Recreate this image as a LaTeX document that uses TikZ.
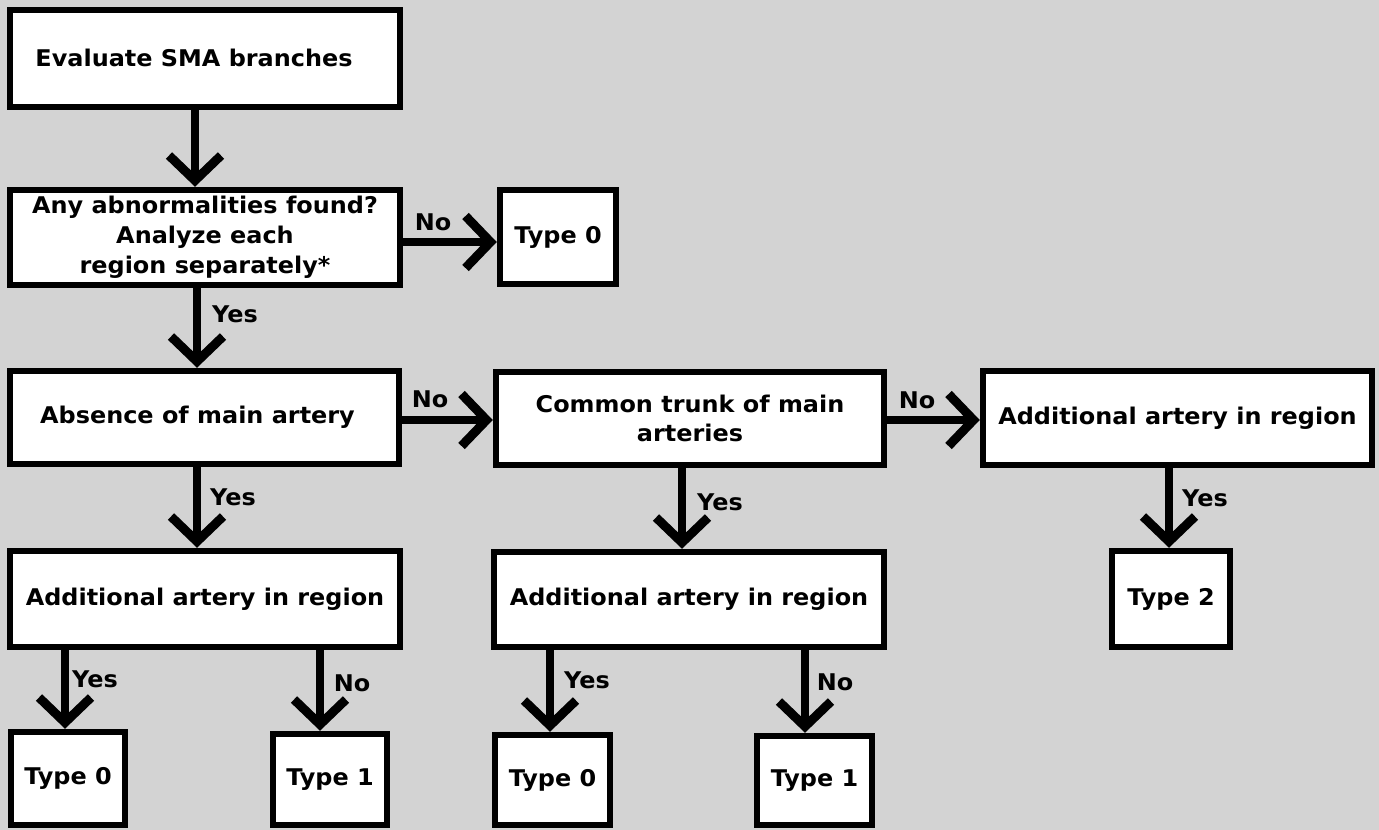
\documentclass[tikz,border=0pt]{standalone}
\usepackage{fontspec}
\newfontfamily\vb[FakeStretch=1.04]{DejaVu Sans Bold}
\usetikzlibrary{arrows.meta}
\definecolor{bg}{RGB}{211,211,211}
\tikzset{
  box/.style={draw=black, fill=white, line width=6.5pt, inner sep=0pt, align=center,
    font=\vb\fontsize{23}{30}\selectfont, text=black},
  arr/.style={line width=8pt, -{Straight Barb[length=25pt,width=52pt,line width=9pt]}},
  lbl/.style={font=\vb\fontsize{23}{24}\selectfont, inner sep=0pt}
}
\begin{document}
\begin{tikzpicture}[x=1pt,y=-1pt]
\fill[bg] (0,0) rectangle (1379,830);
\useasboundingbox (0,0) rectangle (1379,830);

\node[box, minimum width=390pt, minimum height=97pt] (b1) at (205,58.5) {\raisebox{2pt}{Evaluate SMA branches\hspace*{22pt}}};
\node[box, minimum width=390pt, minimum height=95pt] (b2) at (205,237.5) {Any abnormalities found?\\Analyze each\\region separately*};
\node[box, minimum width=116pt, minimum height=94pt] (t0a) at (558,237) {Type 0};
\node[box, minimum width=389pt, minimum height=93pt] (b3) at (204.5,417.5) {\raisebox{2pt}{Absence of main artery\hspace*{14pt}}};
\node[box, minimum width=388pt, minimum height=93pt, font=\vb\fontsize{23}{29.5}\selectfont] (b4) at (690,418.5) {Common trunk of main\\arteries};
\node[box, minimum width=389pt, minimum height=94pt] (b5) at (1177.5,418) {Additional artery in region};
\node[box, minimum width=390pt, minimum height=96pt] (b6) at (205,599) {Additional artery in region};
\node[box, minimum width=390pt, minimum height=95pt] (b7) at (689,599.5) {Additional artery in region};
\node[box, minimum width=118pt, minimum height=96pt] (t2) at (1171,599) {Type 2};
\node[box, minimum width=114pt, minimum height=93pt] (t0b) at (68,778.5) {Type 0};
\node[box, minimum width=114pt, minimum height=91pt] (t1b) at (330,779.5) {Type 1};
\node[box, minimum width=115pt, minimum height=90pt] (t0c) at (552.5,780) {Type 0};
\node[box, minimum width=115pt, minimum height=89pt] (t1c) at (814.5,780.5) {Type 1};

\coordinate (y242) at (0,242);
\coordinate (y420) at (0,420);

\draw[arr] (b1.south -| 195,0) -- (b2.north -| 195,0);
\draw[arr] (b2.east |- y242) -- (t0a.west |- y242);
\draw[arr] (b2.south -| 197,0) -- (b3.north -| 197,0);
\draw[arr] (b3.east |- y420) -- (b4.west |- y420);
\draw[arr] (b4.east |- y420) -- (b5.west |- y420);
\draw[arr] (b3.south -| 197,0) -- (b6.north -| 197,0);
\draw[arr] (b4.south -| 682,0) -- (b7.north -| 682,0);
\draw[arr] (b5.south -| 1169,0) -- (t2.north -| 1169,0);
\draw[arr] (b6.south -| 65,0) -- (t0b.north -| 65,0);
\draw[arr] (b6.south -| 320,0) -- (t1b.north -| 320,0);
\draw[arr] (b7.south -| 550,0) -- (t0c.north -| 550,0);
\draw[arr] (b7.south -| 805,0) -- (t1c.north -| 805,0);

\node[lbl] (l1) at (433,222) {No};
\node[lbl] (l2) at (235,314) {Yes};
\node[lbl] (l3) at (430,399) {No};
\node[lbl] (l4) at (917,400) {No};
\node[lbl] (l5) at (233,497) {Yes};
\node[lbl] (l6) at (720,502) {Yes};
\node[lbl] (l7) at (1205,498) {Yes};
\node[lbl] (l8) at (95,679) {Yes};
\node[lbl] (l9) at (352,683) {No};
\node[lbl] (l10) at (587,680) {Yes};
\node[lbl] (l11) at (835,682) {No};
\end{tikzpicture}
\end{document}
